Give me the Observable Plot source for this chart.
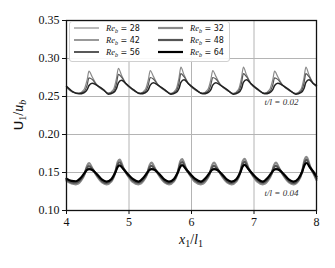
<!DOCTYPE html>
<html>
<head>
<meta charset="utf-8">
<script src="https://cdn.jsdelivr.net/npm/d3@7"></script>
<script src="https://cdn.jsdelivr.net/npm/@observablehq/plot@0.6"></script>
<style>
  html, body { margin: 0; padding: 0; background: #fff; }
  #chart { width: 335px; height: 268px; }
</style>
</head>
<body>
<div id="chart"></div>
<script>
// ---- data ----
const xTicks = [4, 5, 6, 7, 8];
const yTicks = [0.10, 0.15, 0.20, 0.25, 0.30, 0.35];

// upper group (t/l = 0.02)
const upperX = [4.00, 4.10,
 4.20,4.28,4.33,4.36,4.41,4.48,4.60,
 4.67,4.75,4.80,4.83,4.88,4.95,5.07,
 5.18,5.26,5.31,5.34,5.39,5.46,5.58,
 5.67,5.75,5.80,5.83,5.88,5.95,6.07,
 6.18,6.26,6.31,6.34,6.39,6.46,6.58,
 6.67,6.75,6.80,6.83,6.88,6.95,7.07,
 7.17,7.25,7.30,7.33,7.38,7.45,7.57,
 7.67,7.75,7.80,7.83,7.88,7.95,8.00];
const upperRe28 = [0.2620, 0.2555,
 0.2545, 0.2590, 0.2720, 0.2833, 0.2760, 0.2660, 0.2575,
 0.2545, 0.2590, 0.2740, 0.2872, 0.2780, 0.2670, 0.2580,
 0.2545, 0.2590, 0.2725, 0.2842, 0.2765, 0.2660, 0.2575,
 0.2540, 0.2590, 0.2745, 0.2886, 0.2785, 0.2670, 0.2580,
 0.2545, 0.2590, 0.2725, 0.2842, 0.2765, 0.2660, 0.2575,
 0.2540, 0.2590, 0.2745, 0.2886, 0.2785, 0.2670, 0.2580,
 0.2545, 0.2590, 0.2720, 0.2833, 0.2760, 0.2660, 0.2575,
 0.2540, 0.2590, 0.2745, 0.2886, 0.2785, 0.2670, 0.2630];
const upperRe42 = [0.2630, 0.2560,
 0.2540, 0.2565, 0.2650, 0.2745, 0.2725, 0.2655, 0.2580,
 0.2540, 0.2565, 0.2670, 0.2790, 0.2755, 0.2670, 0.2585,
 0.2540, 0.2565, 0.2655, 0.2750, 0.2730, 0.2655, 0.2580,
 0.2535, 0.2565, 0.2675, 0.2800, 0.2760, 0.2670, 0.2585,
 0.2540, 0.2565, 0.2655, 0.2750, 0.2730, 0.2655, 0.2580,
 0.2535, 0.2565, 0.2675, 0.2800, 0.2760, 0.2670, 0.2585,
 0.2540, 0.2565, 0.2650, 0.2745, 0.2725, 0.2655, 0.2580,
 0.2535, 0.2565, 0.2675, 0.2800, 0.2760, 0.2670, 0.2635];
const upperRe56 = [0.2635, 0.2565,
 0.2535, 0.2550, 0.2590, 0.2645, 0.2675, 0.2650, 0.2585,
 0.2530, 0.2550, 0.2605, 0.2680, 0.2715, 0.2670, 0.2590,
 0.2535, 0.2550, 0.2590, 0.2650, 0.2680, 0.2650, 0.2585,
 0.2530, 0.2550, 0.2605, 0.2685, 0.2720, 0.2670, 0.2590,
 0.2535, 0.2550, 0.2590, 0.2650, 0.2680, 0.2650, 0.2585,
 0.2530, 0.2550, 0.2605, 0.2685, 0.2720, 0.2670, 0.2590,
 0.2535, 0.2550, 0.2590, 0.2645, 0.2675, 0.2650, 0.2585,
 0.2530, 0.2550, 0.2605, 0.2685, 0.2720, 0.2670, 0.2645];

// lower group (t/l = 0.04)
const lowerX = [4.00, 4.08,
 4.15,4.23,4.29,4.33,4.36,4.42,4.49,4.57,
 4.64,4.72,4.78,4.82,4.85,4.91,4.98,5.06,
 5.15,5.23,5.29,5.33,5.36,5.42,5.49,5.57,
 5.64,5.72,5.78,5.82,5.85,5.91,5.98,6.06,
 6.15,6.23,6.29,6.33,6.36,6.42,6.49,6.57,
 6.64,6.72,6.78,6.82,6.85,6.91,6.98,7.06,
 7.14,7.22,7.28,7.32,7.35,7.41,7.48,7.56,
 7.63,7.71,7.77,7.81,7.84,7.90,7.95,8.00];
const lowerRe32 = [0.1390, 0.1355,
 0.1345, 0.1390, 0.1480, 0.1590, 0.1625, 0.1545, 0.1450, 0.1370,
 0.1345, 0.1385, 0.1500, 0.1640, 0.1670, 0.1560, 0.1460, 0.1375,
 0.1345, 0.1390, 0.1480, 0.1595, 0.1630, 0.1545, 0.1450, 0.1370,
 0.1345, 0.1385, 0.1500, 0.1645, 0.1675, 0.1560, 0.1460, 0.1375,
 0.1345, 0.1390, 0.1480, 0.1595, 0.1630, 0.1545, 0.1450, 0.1370,
 0.1345, 0.1385, 0.1500, 0.1650, 0.1680, 0.1560, 0.1460, 0.1375,
 0.1345, 0.1390, 0.1480, 0.1595, 0.1630, 0.1545, 0.1450, 0.1370,
 0.1345, 0.1390, 0.1510, 0.1670, 0.1705, 0.1575, 0.1490, 0.1400];
const lowerRe48 = [0.1405, 0.1370,
 0.1365, 0.1410, 0.1488, 0.1565, 0.1585, 0.1538, 0.1462, 0.1388,
 0.1362, 0.1400, 0.1500, 0.1610, 0.1635, 0.1552, 0.1470, 0.1395,
 0.1365, 0.1410, 0.1488, 0.1568, 0.1588, 0.1538, 0.1462, 0.1388,
 0.1362, 0.1400, 0.1500, 0.1612, 0.1638, 0.1552, 0.1470, 0.1395,
 0.1365, 0.1410, 0.1488, 0.1568, 0.1588, 0.1538, 0.1462, 0.1388,
 0.1362, 0.1400, 0.1500, 0.1615, 0.1640, 0.1552, 0.1470, 0.1395,
 0.1365, 0.1410, 0.1488, 0.1568, 0.1588, 0.1538, 0.1462, 0.1388,
 0.1362, 0.1405, 0.1510, 0.1635, 0.1665, 0.1568, 0.1500, 0.1422];
const lowerRe64 = [0.1420, 0.1390,
 0.1385, 0.1430, 0.1495, 0.1535, 0.1545, 0.1530, 0.1475, 0.1405,
 0.1380, 0.1415, 0.1500, 0.1575, 0.1595, 0.1545, 0.1480, 0.1415,
 0.1380, 0.1430, 0.1495, 0.1535, 0.1545, 0.1530, 0.1475, 0.1405,
 0.1380, 0.1415, 0.1500, 0.1575, 0.1598, 0.1545, 0.1480, 0.1415,
 0.1380, 0.1430, 0.1495, 0.1535, 0.1545, 0.1530, 0.1475, 0.1405,
 0.1380, 0.1415, 0.1500, 0.1580, 0.1600, 0.1545, 0.1480, 0.1415,
 0.1380, 0.1430, 0.1495, 0.1535, 0.1545, 0.1530, 0.1475, 0.1405,
 0.1380, 0.1420, 0.1510, 0.1600, 0.1625, 0.1560, 0.1510, 0.1445];

const legendRe = [28, 32, 42, 48, 56, 64];
const annotLabels = ["t/l = 0.02", "t/l = 0.04"];
const annotX = [7.44, 7.44];
const annotY = [0.2425, 0.1235];

// ---- styles ----
const styleOf = {
  28: {stroke: "#8a8a8a", w: 1.2},
  32: {stroke: "#8a8a8a", w: 2.2},
  42: {stroke: "#555555", w: 1.2},
  48: {stroke: "#555555", w: 2.2},
  56: {stroke: "#222222", w: 1.5},
  64: {stroke: "#000000", w: 2.2}
};

const series = [
  {re: 28, xs: upperX, ys: upperRe28},
  {re: 42, xs: upperX, ys: upperRe42},
  {re: 56, xs: upperX, ys: upperRe56},
  {re: 32, xs: lowerX, ys: lowerRe32},
  {re: 48, xs: lowerX, ys: lowerRe48},
  {re: 64, xs: lowerX, ys: lowerRe64}
];

const lineMarks = series.map(s => Plot.line(
  s.xs.map((x, i) => ({x, y: s.ys[i]})),
  {x: "x", y: "y", stroke: styleOf[s.re].stroke, strokeWidth: styleOf[s.re].w,
   curve: "monotone-x", strokeLinejoin: "round"}
));

const annots = annotLabels.map((t, i) => ({t, x: annotX[i], y: annotY[i]}));

const plot = Plot.plot({
  width: 335, height: 268,
  marginLeft: 66, marginRight: 19, marginTop: 20, marginBottom: 58,
  style: {fontFamily: "'Liberation Serif', serif", fontSize: "12px", background: "#fff", color: "#111"},
  x: {domain: [4, 8]},
  y: {domain: [0.10, 0.35]},
  marks: [
    Plot.gridX(xTicks, {stroke: "#b4b4b4", strokeOpacity: 1, strokeWidth: 1}),
    Plot.gridY(yTicks, {stroke: "#b4b4b4", strokeOpacity: 1, strokeWidth: 1}),
    ...lineMarks,
    Plot.text(annots, {x: "x", y: "y", text: "t", fontStyle: "italic", fontSize: 9,
      fontFamily: "'Liberation Serif', serif", fill: "#333", textAnchor: "middle",
      letterSpacing: 0.4}),
    Plot.frame({stroke: "#111", strokeWidth: 1.3}),
    Plot.axisX({ticks: xTicks, tickFormat: d3.format("d"), tickSize: 4, tickPadding: 3, label: null, stroke: "#111"}),
    Plot.axisY({ticks: yTicks, tickFormat: d3.format(".2f"), tickSize: 4, tickPadding: 3, label: null, stroke: "#111"})
  ]
});

document.getElementById("chart").appendChild(plot);

// ---- legend and axis labels (layout in pixels) ----
const svg = d3.select(plot);
const lg = svg.append("g").attr("text-anchor", "start");
lg.append("rect").attr("x", 69.5).attr("y", 21.5).attr("width", 160).attr("height", 40)
  .attr("rx", 2.5).attr("fill", "#fff").attr("fill-opacity", 0.9)
  .attr("stroke", "#d0d0d0").attr("stroke-width", 1);
legendRe.forEach((re, i) => {
  const col = i % 2, row = Math.floor(i / 2);
  const x0 = col === 0 ? 74 : 158;
  const y0 = 28 + row * 12;
  lg.append("line").attr("x1", x0).attr("x2", x0 + 25).attr("y1", y0).attr("y2", y0)
    .attr("stroke", styleOf[re].stroke).attr("stroke-width", styleOf[re].w);
  const t = lg.append("text").attr("x", x0 + 32).attr("y", y0 + 3)
    .attr("text-anchor", "start").attr("font-size", 8).attr("fill", "#111");
  t.append("tspan").attr("font-family", "'Liberation Serif', serif").attr("font-style", "italic")
    .attr("font-size", 8.5).text("Re");
  t.append("tspan").attr("font-family", "'Liberation Serif', serif").attr("font-style", "italic")
    .attr("font-size", 6).attr("dy", 2).text("b");
  t.append("tspan").attr("font-family", "'DejaVu Sans', sans-serif").attr("dy", -2).text(" = " + re);
});

// x label
const xl = svg.append("text").attr("x", 191).attr("y", 244).attr("text-anchor", "middle")
  .attr("font-family", "'Liberation Serif', serif").attr("font-size", 14).attr("fill", "#111");
xl.append("tspan").attr("font-style", "italic").text("x");
xl.append("tspan").attr("font-size", 10).attr("dy", 3).text("1");
xl.append("tspan").attr("dy", -3).text("/");
xl.append("tspan").attr("font-style", "italic").text("l");
xl.append("tspan").attr("font-size", 10).attr("dy", 3).text("1");

// y label
const yl = svg.append("text").attr("transform", "translate(23,115) rotate(-90)").attr("text-anchor", "middle")
  .attr("font-family", "'Liberation Serif', serif").attr("font-size", 14).attr("fill", "#111");
yl.append("tspan").attr("font-family", "'DejaVu Sans', sans-serif").attr("font-size", 13).text("U");
yl.append("tspan").attr("font-size", 10).attr("dy", 3).text("1");
yl.append("tspan").attr("dy", -3).text("/");
yl.append("tspan").attr("font-style", "italic").text("u");
yl.append("tspan").attr("font-style", "italic").attr("font-size", 10).attr("dy", 3).text("b");
</script>
</body>
</html>
